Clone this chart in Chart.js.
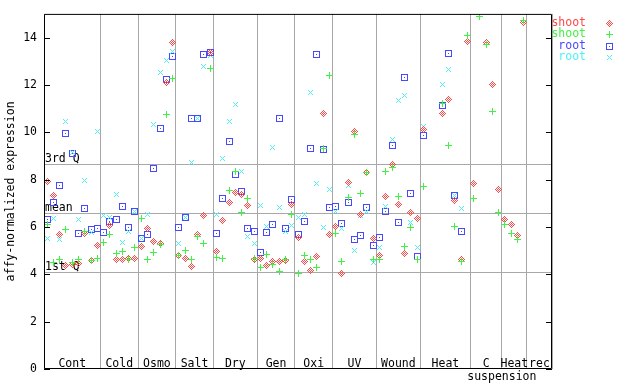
<!DOCTYPE html>
<html>
<head>
<meta charset="utf-8">
<script src="https://cdn.jsdelivr.net/npm/chart.js@4.4.1/dist/chart.umd.min.js"></script>
<style>
  html, body { margin: 0; padding: 0; background: #fff; }
  #chart { display: block; }
</style>
</head>
<body>
<canvas id="chart" width="640" height="384"></canvas>
<script>
// categories and how many samples (x slots) each one holds
const categories = ["Cont", "Cold", "Osmo", "Salt", "Dry", "Gen", "Oxi", "UV", "Wound", "Heat", "C\nsuspension", "Heat", "rec"];
const sampleCounts = [9, 6, 6, 6, 7, 6, 6, 7, 7, 8, 5, 4, 4];

const yTicks = [0, 2, 4, 6, 8, 10, 12, 14];
const quartileLabels = ["1st Q", "mean", "3rd Q"];
const quartileValues = [4.08, 6.61, 8.68];

const seriesNames = ["shoot", "shoot", "root", "root"];
const seriesColors = ["#ff4848", "#44f044", "#4848ff", "#50f0f0"];

// one value per sample slot, null = no point
const shootRed = [
    7.93, 7.34, 5.69, 4.37, 4.41, 4.46, 5.72, 4.60, 5.22,
    null, 6.07, 4.64, 4.64, 4.68, 4.68,
    5.17, 5.93, 5.40, 5.31, 12.09, 13.78,
    4.81, 4.67, 4.34, 5.68, 6.48, 13.36,
    4.98, 6.27, 7.03, 7.45, 7.37, 6.90, 4.63,
    4.67, 4.37, 4.55, 4.55, 4.57, 6.96,
    5.54, 4.54, 4.18, 4.74, 10.78, 5.69,
    6.00, 4.04, 7.86, 10.04, 6.54, 8.29, 5.50,
    4.79, 7.28, 8.64, 6.94, 4.88, 6.61, 6.35,
    10.12, null, null, 10.78, 11.37, 7.10, 4.63, 13.82,
    7.83, null, 13.78, 12.01, 7.58,
    6.31, 6.10, 5.65, 14.62,
    null, null, null, null
];
const shootGreen = [
    6.10, 4.50, 4.64, 5.89, 4.51, 4.63, 5.79, 4.60, 4.67,
    5.33, 5.69, 4.88, 4.95, 4.64, 5.13,
    6.35, 4.64, 4.92, 5.27, 10.74, 12.26,
    4.78, 5.02, 4.64, 5.61, 5.30, 12.68,
    4.71, 4.67, 7.53, 8.35, 6.61, 7.20, 4.67,
    4.29, 4.84, 4.41, 4.13, 4.64, 6.52,
    4.04, 4.79, 4.63, 4.29, 9.30, 12.38,
    5.72, 4.54, 7.24, 9.90, 7.42, 8.29, 4.64,
    4.63, 8.34, 8.50, 7.28, 5.17, 5.98, 4.63,
    7.72, null, null, 11.20, 9.43, 6.02, 4.54, 14.07,
    7.20, 14.87, 13.70, 10.88, 6.61,
    6.10, 5.72, 5.47, 14.72,
    null, null, null, null
];
const rootBlue = [
    6.33, 7.03, 7.76, 9.94, 9.12, 5.72, 6.79, 5.89, 5.93,
    5.78, 6.24, 6.31, 6.87, 5.99, 6.66,
    5.50, 5.69, 8.46, 10.15, 12.22, 13.19,
    5.98, 6.42, 10.57, 10.57, 13.27, 13.36,
    5.72, 7.20, 9.61, 8.21, 7.48, 5.93, 5.81,
    4.92, 5.76, 6.11, 10.57, 5.93, 7.16,
    5.68, 6.23, 9.31, 13.27, 9.27, 6.82,
    6.86, 6.14, 7.03, 5.47, 5.64, 6.82, 5.22,
    5.55, 6.65, 9.43, 6.19, 12.30, 7.41, 4.75,
    9.85, null, null, 11.12, 13.31, 7.31, 5.81, null,
    null, null, null, null, null,
    null, null, null, null,
    null, null, null, null
];
const rootCyan = [
    5.51, 6.35, 5.47, 10.46, 9.16, 6.31, 7.97, 5.77, 10.04,
    6.49, 6.42, 7.38, 5.34, 5.81, 6.66,
    5.50, 6.52, 10.32, 12.51, 13.02, 13.40,
    5.30, 6.38, 8.72, 10.60, 12.77, 13.24,
    6.54, 8.88, 10.46, 11.16, 8.34, 5.60, 5.30,
    6.90, 6.03, 9.35, 6.82, 5.80, 6.07,
    6.42, 6.52, 11.67, 7.83, 5.96, 7.58,
    6.65, 5.93, 7.76, 5.02, 6.47, 6.65, 4.51,
    5.13, 6.87, 9.69, 11.33, 11.54, 6.19, 5.13,
    10.25, null, null, 12.01, 12.64, 7.31, 6.78, null,
    null, null, null, null, null,
    null, null, null, null,
    null, null, null, null
];

const FONT = "'DejaVu Sans Mono', monospace";
const totalSlots = sampleCounts.reduce((a, b) => a + b, 0);

// category boundaries in slot units
const bounds = [0];
sampleCounts.forEach(n => bounds.push(bounds[bounds.length - 1] + n));

// small pixel markers like the original plot
function makeMarker(color, kind)
{
    const c = document.createElement("canvas");
    c.width = 7;
    c.height = 7;
    const g = c.getContext("2d");
    g.fillStyle = color;
    for (let y = 0; y < 7; y++)
    {
        for (let x = 0; x < 7; x++)
        {
            const dx = Math.abs(x - 3), dy = Math.abs(y - 3);
            let on = false;
            if (kind === "diamond") on = (dx + dy === 3) || (dx + dy === 1);
            if (kind === "plus") on = (x === 3 || y === 3);
            if (kind === "square") on = (dx === 3 || dy === 3 || (dx === 0 && dy === 0));
            if (kind === "cross") on = (dx === dy && dx <= 2);
            if (on) g.fillRect(x, y, 1, 1);
        }
    }
    return c;
}

const markers = [
    makeMarker(seriesColors[0], "diamond"),
    makeMarker(seriesColors[1], "plus"),
    makeMarker(seriesColors[2], "square"),
    makeMarker(seriesColors[3], "cross")
];

function toPoints(values)
{
    const pts = [];
    values.forEach((v, i) => {
        if (v !== null) pts.push({ x: i + 0.5, y: v });
    });
    return pts;
}

const allSeries = [shootRed, shootGreen, rootBlue, rootCyan];

// first dataset is drawn on top, so blue goes last
const drawOrder = [1, 0, 3, 2];
const datasets = drawOrder.map(k => ({
    label: seriesNames[k],
    data: toPoints(allSeries[k]),
    pointStyle: markers[k],
    pointRadius: 3,
    showLine: false
}));

const overlay = {
    id: "overlay",
    beforeDatasetsDraw(chart)
    {
        const { ctx, chartArea: a, scales: { y } } = chart;
        ctx.save();
        ctx.strokeStyle = "#a8a8a8";
        ctx.lineWidth = 1;
        ctx.fillStyle = "#000";
        ctx.font = "11.5px " + FONT;
        ctx.textAlign = "left";
        ctx.textBaseline = "bottom";
        quartileValues.forEach((v, i) => {
            const py = Math.round(y.getPixelForValue(v)) + 0.5;
            ctx.beginPath();
            ctx.moveTo(a.left, py);
            ctx.lineTo(a.right, py);
            ctx.stroke();
            ctx.fillText(quartileLabels[i], a.left + 1, py);
        });
        ctx.restore();
        ctx.imageSmoothingEnabled = false;
    },
    afterDatasetsDraw(chart)
    {
        chart.ctx.imageSmoothingEnabled = true;
    },
    afterDraw(chart)
    {
        const { ctx, chartArea: a, scales: { x, y } } = chart;
        ctx.save();

        // frame
        ctx.strokeStyle = "#000";
        ctx.lineWidth = 1;
        ctx.beginPath();
        ctx.moveTo(a.left + 0.5, a.top + 0.5);
        ctx.lineTo(a.right - 0.5, a.top + 0.5);
        ctx.lineTo(a.right - 0.5, a.bottom - 0.5);
        ctx.lineTo(a.left + 0.5, a.bottom - 0.5);
        ctx.closePath();
        ctx.stroke();

        // inward ticks both sides
        yTicks.forEach(v => {
            const py = Math.round(y.getPixelForValue(v)) + 0.5;
            ctx.beginPath();
            ctx.moveTo(a.left, py);
            ctx.lineTo(a.left + 6, py);
            ctx.moveTo(a.right - 6, py);
            ctx.lineTo(a.right, py);
            ctx.stroke();
        });

        // category labels
        ctx.fillStyle = "#000";
        ctx.font = "11.5px " + FONT;
        ctx.textAlign = "center";
        ctx.textBaseline = "middle";
        categories.forEach((label, i) => {
            const lines = label.split("\n");
            const cx = x.getPixelForValue((bounds[i] + bounds[i + 1]) / 2);
            ctx.fillText(lines[0], cx, a.bottom - 5);
            if (lines[1])
                ctx.fillText(lines[1], x.getPixelForValue(bounds[i + 1]), a.bottom + 8);
        });

        // y title
        ctx.save();
        ctx.translate(11, (a.top + a.bottom) / 2);
        ctx.rotate(-Math.PI / 2);
        ctx.fillText("affy-normalized expression", 0, 0);
        ctx.restore();

        // legend
        ctx.textAlign = "right";
        ctx.imageSmoothingEnabled = false;
        seriesNames.forEach((name, i) => {
            const ly = 23 + i * 11.3;
            ctx.fillStyle = seriesColors[i];
            ctx.fillText(name, 586, ly);
            ctx.drawImage(markers[i], 606, Math.round(ly) - 3);
        });
        ctx.restore();
    }
};

const ctx = document.getElementById("chart").getContext("2d");

const chart = new Chart(ctx, {
    type: "scatter",
    data: { datasets: datasets },
    options: {
        responsive: false,
        animation: false,
        layout: { padding: { top: 13, right: 88, left: 0, bottom: 0 } },
        plugins: {
            legend: { display: false },
            tooltip: { enabled: false }
        },
        scales: {
            x: {
                type: "linear",
                min: 0,
                max: totalSlots,
                afterBuildTicks: s => { s.ticks = bounds.map(v => ({ value: v })); },
                afterFit: s => { s.height = 15; },
                ticks: { display: false },
                grid: { color: "#a8a8a8", lineWidth: 1, drawTicks: false },
                border: { display: false }
            },
            y: {
                type: "linear",
                min: 0,
                max: 15,
                afterBuildTicks: s => { s.ticks = yTicks.map(v => ({ value: v })); },
                afterFit: s => { s.width = 44; },
                ticks: {
                    color: "#000",
                    padding: 7,
                    font: { family: FONT, size: 11.5 }
                },
                grid: { display: false, drawTicks: false },
                border: { display: false }
            }
        }
    },
    plugins: [overlay]
});
</script>
</body>
</html>
